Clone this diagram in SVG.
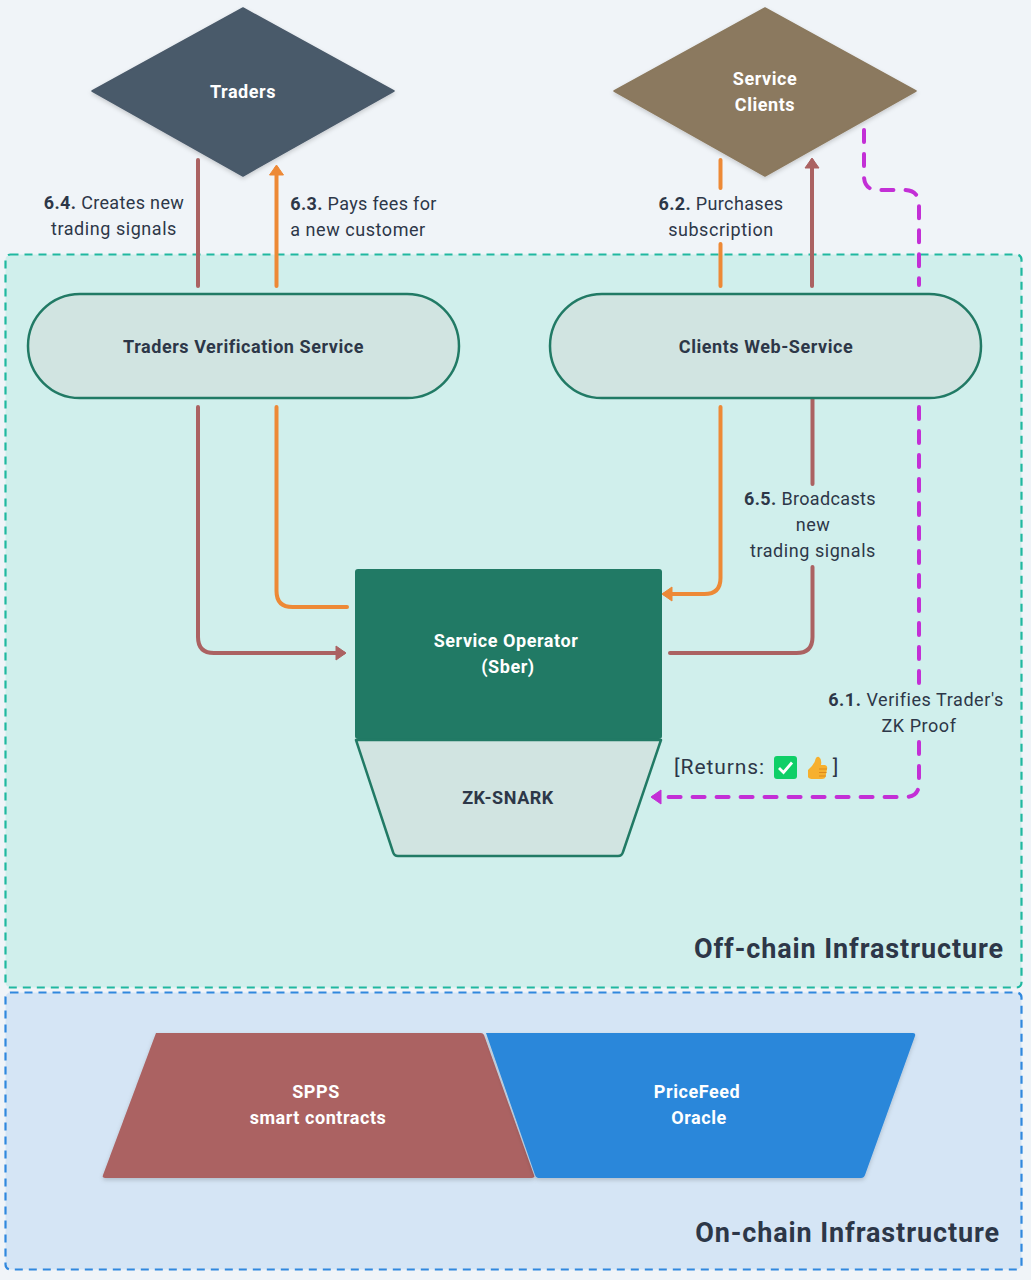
<svg xmlns="http://www.w3.org/2000/svg" width="1031" height="1280" viewBox="0 0 1031 1280">
<style>
text{font-family:"Roboto","Liberation Sans",sans-serif;text-anchor:middle}
.n{font-size:18px;font-weight:700;letter-spacing:.55px}
.w{fill:#fff}.d{fill:#2d3748}
.l{font-size:18px;fill:#2d3748;letter-spacing:.55px}
.f{letter-spacing:.35px}
.l tspan.b{font-weight:700}
.g{font-size:21px;fill:#2d3748;letter-spacing:.9px}
.t{font-size:27px;font-weight:700;fill:#2d3748;text-anchor:end;letter-spacing:.9px}
.c{fill:none;stroke-width:4px;stroke-linecap:round;stroke-linejoin:round}
.r{stroke:#ab6262}.o{stroke:#ed8936}.p{stroke:#c32fd6;stroke-dasharray:12 12}
</style>
<defs>
<marker id="ar" markerUnits="userSpaceOnUse" markerWidth="16" markerHeight="16" refX="8" refY="8" orient="auto"><path d="M1 1L11 8L1 15Z" fill="#ab6262" stroke="#ab6262" stroke-linejoin="round"/></marker>
<marker id="ao" markerUnits="userSpaceOnUse" markerWidth="16" markerHeight="16" refX="8" refY="8" orient="auto"><path d="M1 1L11 8L1 15Z" fill="#ed8936" stroke="#ed8936" stroke-linejoin="round"/></marker>
<marker id="ap" markerUnits="userSpaceOnUse" markerWidth="16" markerHeight="16" refX="8" refY="8" orient="auto"><path d="M1 1L11 8L1 15Z" fill="#c32fd6" stroke="#c32fd6" stroke-linejoin="round"/></marker>
<filter id="s" x="-10%" y="-10%" width="120%" height="125%"><feDropShadow dx="0" dy="2" stdDeviation="2" flood-color="#000" flood-opacity=".18"/></filter>
</defs>
<rect width="1031" height="1280" fill="#f0f4f8"/>
<g id="offchain">
<rect x="5.500" y="254.500" width="1016" height="733" rx="5" fill="#d0efec" stroke="#20b8a0" stroke-width="2.200" stroke-dasharray="8 6"/>
<text class="t" x="1004" y="958">Off-chain Infrastructure</text>
</g>
<g id="onchain">
<rect x="5.500" y="992.500" width="1016" height="277" rx="5" fill="#d5e5f5" stroke="#3088de" stroke-width="2.200" stroke-dasharray="8 6"/>
<text class="t" x="1000" y="1242">On-chain Infrastructure</text>
</g>
<g id="connectors">
<path class="c r" d="M198 160V286"/>
<path class="c o" d="M276.500 286V168" marker-end="url(#ao)"/>
<path class="c o" d="M720.500 160V188M720.500 244V286"/>
<path class="c r" d="M812 286V161" marker-end="url(#ar)"/>
<path class="c p" d="M864 130V176Q864 190 878 190H904Q919 190 919 205V285"/>
<path class="c r" d="M198 407V637Q198 653 214 653H343" marker-end="url(#ar)"/>
<path class="c o" d="M276.500 407V591Q276.500 607 292.500 607H347"/>
<path class="c o" d="M720.500 407V578Q720.500 594 704.500 594H665" marker-end="url(#ao)"/>
<path class="c r" d="M812.500 399V484M812.500 567V637Q812.500 653 796.500 653H670"/>
<path class="c p" d="M919 407V685M919 742V783Q919 797 905 797H654" marker-end="url(#ap)"/>
</g>
<g id="traders">
<path d="M243 8L394 91L243 176L92 91Z" fill="#4a5a6a" stroke="#4a5a6a" stroke-width="1.500" stroke-linejoin="round" filter="url(#s)"/>
<text class="n w" x="243" y="98">Traders</text>
</g>
<g id="service-clients">
<path d="M765 8L916 91L765 176L614 91Z" fill="#8b795e" stroke="#8b795e" stroke-width="1.500" stroke-linejoin="round" filter="url(#s)"/>
<text class="n w" x="765" y="85">Service</text>
<text class="n w" x="765" y="111">Clients</text>
</g>
<g id="traders-verification-service">
<rect x="28" y="294" width="431" height="104" rx="52" fill="#d1e4e1" stroke="#217a65" stroke-width="2.500"/>
<text class="n d" x="243.500" y="353">Traders Verification Service</text>
</g>
<g id="clients-web-service">
<rect x="550" y="294" width="431" height="104" rx="52" fill="#d1e4e1" stroke="#217a65" stroke-width="2.500"/>
<text class="n d" x="766" y="353">Clients Web-Service</text>
</g>
<g id="service-operator">
<rect x="355" y="569" width="307" height="170" rx="3" fill="#217a65"/>
<text class="n w" x="506" y="647">Service Operator</text>
<text class="n w" x="508" y="673">(Sber)</text>
</g>
<g id="zk-snark">
<path d="M356 740H661L623 852Q622 856 618 856H398Q394 856 393 852Z" fill="#d1e4e1" stroke="#217a65" stroke-width="2.500" stroke-linejoin="round"/>
<text class="n d" x="508" y="804">ZK-SNARK</text>
</g>
<g id="spps">
<path d="M156 1033H481Q483 1033 484 1035L534 1175Q535 1178 532 1178H105Q102 1178 103 1175Z" fill="#ab6262" filter="url(#s)"/>
<text class="n w" x="316" y="1098">SPPS</text>
<text class="n w" x="318" y="1124">smart contracts</text>
</g>
<g id="pricefeed">
<path d="M486 1033H913Q916 1033 915 1036L865 1175Q864 1178 861 1178H538Q536 1178 535 1175Z" fill="#2c87da" filter="url(#s)"/>
<text class="n w" x="697" y="1098">PriceFeed</text>
<text class="n w" x="699" y="1124">Oracle</text>
</g>
<g id="labels">
<text class="l f" x="114" y="209"><tspan class="b">6.4.</tspan> Creates new</text>
<text class="l" x="114" y="235">trading signals</text>
<text class="l f" x="363.500" y="210"><tspan class="b">6.3.</tspan> Pays fees for</text>
<text class="l" x="358" y="236">a new customer</text>
<text class="l f" x="721" y="210"><tspan class="b">6.2.</tspan> Purchases</text>
<text class="l" x="721" y="236">subscription</text>
<text class="l f" x="810" y="505"><tspan class="b">6.5.</tspan> Broadcasts</text>
<text class="l" x="813" y="531">new</text>
<text class="l" x="813" y="557">trading signals</text>
<text class="l" x="916" y="706"><tspan class="b">6.1.</tspan> Verifies Trader's</text>
<text class="l" x="919" y="732">ZK Proof</text>
<text class="g" x="719.500" y="774">[Returns:</text>
<text class="g" x="836" y="774">]</text>
</g>
<g id="emoji">
<rect x="774" y="756" width="23" height="23" rx="3" fill="#0fcf67"/>
<path d="M779 768L783.500 772.500L792 762.500" fill="none" stroke="#fff" stroke-width="2.800"/>
<path d="M808 770Q813 766 815 761Q816 756 819 757Q822 759 821 765H825Q828 766 827 769L825.500 777Q825 779 822 779H813Q809 779 808 777Z" fill="#f7b02e"/>
<path d="M819 769H827M819 772.500H826.500M819 776H826" stroke="#dd8a1c" stroke-width="1" fill="none"/>
</g>
</svg>
